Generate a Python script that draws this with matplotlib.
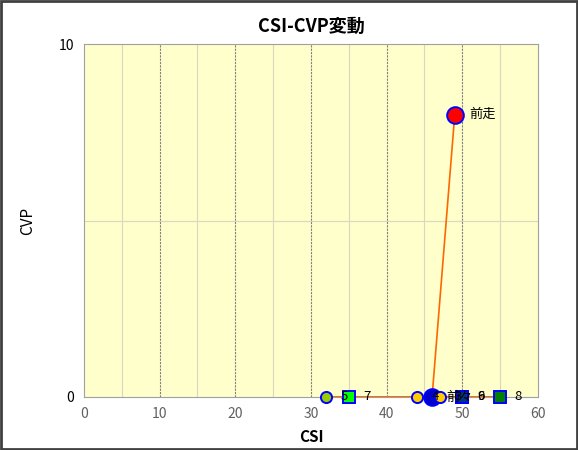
import matplotlib
matplotlib.use('Agg')
import matplotlib.pyplot as plt
from matplotlib.patches import Rectangle

plt.rcParams['font.family'] = ['Noto Sans CJK JP', 'DejaVu Sans']

labels = ['前走', '前々', '3', '4', '5', '6', '7', '8', '9']
csi = [49, 46, 47, 44, 32, 50, 35, 55, 50]
cvp = [8, 0, 0, 0, 0, 0, 0, 0, 0]
markers = ['o', 'o', 'o', 'o', 'o', 's', 's', 's', 's']
colors = ['#ff0000', '#0000cc', '#ffcc00', '#ffcc00', '#99cc00',
          '#003380', '#00ff00', '#008000', '#003380']
sizes = [12, 12, 8, 8, 8, 8.5, 8.5, 8.5, 8.5]

fig = plt.figure(figsize=(5.78, 4.5), dpi=100)
fig.patches.append(Rectangle((0.002, 0.002), 0.996, 0.995, transform=fig.transFigure,
                             fill=False, edgecolor='#404040', linewidth=2))
ax = fig.add_axes([0.1453, 0.1178, 0.7855, 0.7844])
ax.set_facecolor('#ffffcc')

# grid: light lines every 5, dashed every 10
for v in range(5, 60, 10):
    ax.axvline(v, color='#d8d8c0', linewidth=0.8, zorder=1)
for v in range(10, 60, 10):
    ax.axvline(v, color='#808080', linewidth=0.8, linestyle=(0, (2, 1)), zorder=1)
ax.axhline(5, color='#d8d8c0', linewidth=0.8, zorder=1)

ax.plot(csi, cvp, color='#ff6600', linewidth=1.2, zorder=2, clip_on=False)
for x, y, m, c, s, t in zip(csi, cvp, markers, colors, sizes, labels):
    ax.plot(x, y, marker=m, markersize=s, markerfacecolor=c, markeredgecolor='#0000ff',
            markeredgewidth=1.4, linestyle='none', zorder=3, clip_on=False)
    ax.annotate(t, (x, y), xytext=(10.5, 0), textcoords='offset points',
                va='center', ha='left', fontsize=9.5, zorder=4, annotation_clip=False)

ax.set_xlim(0, 60)
ax.set_ylim(0, 10)
ax.set_xticks(range(0, 61, 10))
ax.set_yticks([0, 10])
ax.tick_params(axis='x', length=0, pad=7, labelsize=10, labelcolor='#606060')
ax.tick_params(axis='y', length=0, pad=7, labelsize=10)
for sp in ax.spines.values():
    sp.set_color('#a0a0a0')

ax.set_xlabel('CSI', fontsize=11, fontweight='bold', labelpad=6)
ax.set_ylabel('CVP', fontsize=11, labelpad=16)
ax.set_title('CSI-CVP変動', fontsize=13, fontweight='bold', pad=9)

plt.savefig('out.png', dpi=100)
